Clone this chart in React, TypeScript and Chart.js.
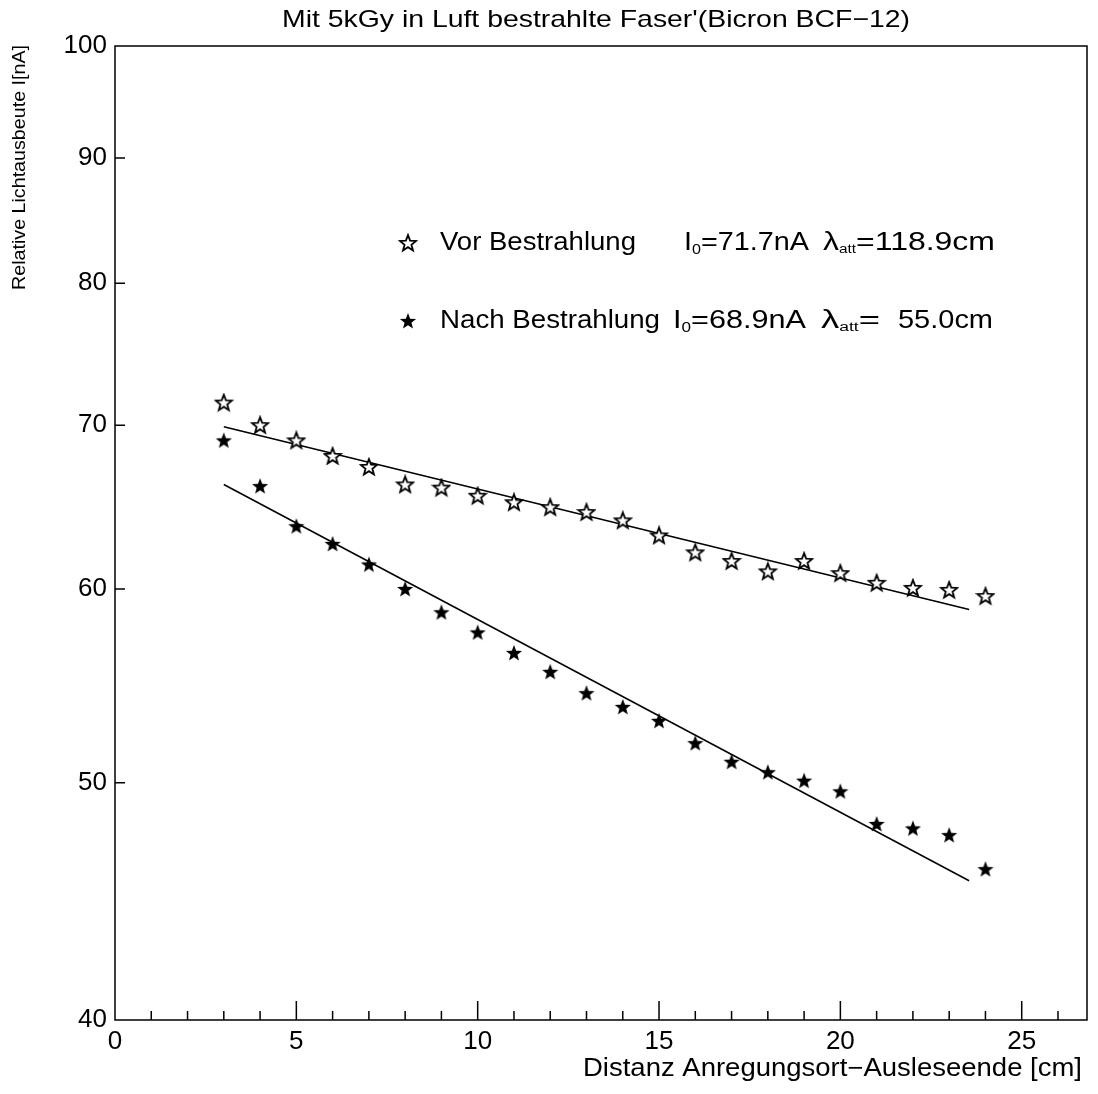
import React, { useEffect, useRef } from "react";
import { Chart, registerables } from "chart.js";

Chart.register(...registerables);

const distances = [3, 4, 5, 6, 7, 8, 9, 10, 11, 12, 13, 14, 15, 16, 17, 18, 19, 20, 21, 22, 23, 24];
const vorValues = [71.5, 70.0, 69.0, 68.0, 67.3, 66.2, 66.0, 65.5, 65.1, 64.8, 64.5, 64.0, 63.1, 62.1, 61.6, 61.0, 61.6, 60.9, 60.35, 60.06, 59.95, 59.6];
const nachValues = [69.0, 66.1, 63.65, 62.6, 61.4, 60.0, 58.7, 57.6, 56.5, 55.5, 54.4, 53.7, 53.0, 51.9, 51.0, 50.5, 50.1, 49.6, 48.1, 47.9, 47.6, 46.1];
const fitX = [3, 23.55];
const fitVor = [69.9, 58.85];
const fitNach = [66.2, 45.6];
const xTicks = [0, 5, 10, 15, 20, 25];
const yTicks = [40, 50, 60, 70, 80, 90, 100];

const TITLE = "Mit 5kGy in Luft bestrahlte Faser'(Bicron BCF\u221212)";
const X_TITLE = "Distanz Anregungsort\u2212Ausleseende [cm]";
const Y_TITLE = "Relative Lichtausbeute I[nA]";
const FONT = "'Liberation Sans', Arial, sans-serif";

type Part = { text: string; size: number; dy?: number };

function makeStar(filled: boolean): HTMLCanvasElement {
  const c = document.createElement("canvas");
  const s = 20;
  c.width = s;
  c.height = s;
  const ctx = c.getContext("2d")!;
  const cx = s / 2, cy = s / 2 + 0.6, ro = 8.5, ri = 3.6;
  ctx.beginPath();
  for (let i = 0; i < 10; i++) {
    const r = i % 2 === 0 ? ro : ri;
    const a = -Math.PI / 2 + (i * Math.PI) / 5;
    const px = cx + r * Math.cos(a), py = cy + r * Math.sin(a);
    if (i === 0) ctx.moveTo(px, py); else ctx.lineTo(px, py);
  }
  ctx.closePath();
  if (filled) {
    ctx.fillStyle = "#000";
    ctx.fill();
  } else {
    ctx.fillStyle = "#fff";
    ctx.fill();
    ctx.strokeStyle = "#000";
    ctx.lineWidth = 1.8;
    ctx.stroke();
  }
  return c;
}

// draws a run of text pieces (with sub-scripts) stretched between x0 and x1
function drawGroup(ctx: CanvasRenderingContext2D, parts: Part[], x0: number, x1: number, y: number) {
  let total = 0;
  for (const p of parts) {
    ctx.font = `${p.size}px ${FONT}`;
    total += ctx.measureText(p.text).width;
  }
  const k = (x1 - x0) / total;
  ctx.save();
  ctx.translate(x0, y);
  ctx.scale(k, 1);
  ctx.textAlign = "left";
  let x = 0;
  for (const p of parts) {
    ctx.font = `${p.size}px ${FONT}`;
    ctx.fillText(p.text, x, p.dy || 0);
    x += ctx.measureText(p.text).width;
  }
  ctx.restore();
}

export default function App() {
  const ref = useRef<HTMLCanvasElement | null>(null);
  useEffect(() => {
    if (!ref.current) return;
    const openStar = makeStar(false);
    const fullStar = makeStar(true);

    const decor = {
      id: "decor",
      afterDraw(chart: any) {
        const ctx: CanvasRenderingContext2D = chart.ctx;
        const { left, right, top, bottom } = chart.chartArea;
        const xs = chart.scales.x;
        const ys = chart.scales.y;
        ctx.save();
        ctx.strokeStyle = "#000";
        ctx.lineWidth = 1.5;
        ctx.strokeRect(left, top, right - left, bottom - top);
        ctx.beginPath();
        for (let i = 1; i <= 26; i++) {
          const px = xs.getPixelForValue(i);
          const len = i % 5 === 0 ? 19 : 9;
          ctx.moveTo(px, bottom);
          ctx.lineTo(px, bottom - len);
        }
        for (const v of yTicks) {
          if (v === 40 || v === 100) continue;
          const py = ys.getPixelForValue(v);
          ctx.moveTo(left, py);
          ctx.lineTo(left + 10, py);
        }
        ctx.stroke();

        ctx.fillStyle = "#000";
        ctx.textBaseline = "middle";
        // title
        drawGroup(ctx, [{ text: TITLE, size: 24 }], 282, 910, 20);
        // x title
        drawGroup(ctx, [{ text: X_TITLE, size: 25 }], 583, 1082, 1069);
        // y title
        ctx.save();
        ctx.translate(20, 290);
        ctx.rotate(-Math.PI / 2);
        drawGroup(ctx, [{ text: Y_TITLE, size: 18.5 }], 0, 245, 0);
        ctx.restore();

        // legend
        ctx.drawImage(openStar, 408 - 10, 243 - 10);
        ctx.drawImage(fullStar, 408 - 10, 321 - 10);
        drawGroup(ctx, [{ text: "Vor Bestrahlung", size: 25 }], 440, 636, 243);
        drawGroup(ctx, [{ text: "I", size: 25 }, { text: "0", size: 14, dy: 7 }, { text: "=71.7nA", size: 25 }], 684, 809, 243);
        drawGroup(ctx, [{ text: "\u03bb", size: 25 }, { text: "att", size: 12, dy: 7 }, { text: "=118.9cm", size: 25 }], 823, 995, 243);
        drawGroup(ctx, [{ text: "Nach Bestrahlung", size: 25 }], 440, 660, 321);
        drawGroup(ctx, [{ text: "I", size: 25 }, { text: "0", size: 14, dy: 7 }, { text: "=68.9nA", size: 25 }], 673, 806, 321);
        drawGroup(ctx, [{ text: "\u03bb", size: 25 }, { text: "att", size: 12, dy: 7 }, { text: "=", size: 25 }], 821, 880, 321);
        drawGroup(ctx, [{ text: "55.0cm", size: 25 }], 898, 993, 321);
        ctx.restore();
      },
    };

    const chart = new Chart(ref.current, {
      type: "scatter",
      data: {
        datasets: [
          {
            label: "Vor Bestrahlung",
            data: distances.map((d, i) => ({ x: d, y: vorValues[i] })),
            pointStyle: openStar as any,
            pointRadius: 9,
            showLine: false,
          },
          {
            label: "Nach Bestrahlung",
            data: distances.map((d, i) => ({ x: d, y: nachValues[i] })),
            pointStyle: fullStar as any,
            pointRadius: 9,
            showLine: false,
          },
          {
            label: "Fit vor",
            type: "line",
            data: fitX.map((d, i) => ({ x: d, y: fitVor[i] })),
            borderColor: "#000",
            borderWidth: 1.5,
            pointRadius: 0,
            showLine: true,
          },
          {
            label: "Fit nach",
            type: "line",
            data: fitX.map((d, i) => ({ x: d, y: fitNach[i] })),
            borderColor: "#000",
            borderWidth: 1.5,
            pointRadius: 0,
            showLine: true,
          },
        ] as any,
      },
      options: {
        animation: false,
        responsive: false,
        layout: { padding: { left: 0, top: 46, right: 11, bottom: 0 } },
        plugins: { legend: { display: false }, tooltip: { enabled: false }, title: { display: false } },
        scales: {
          x: {
            type: "linear",
            min: 0,
            max: 26.8,
            grid: { display: false },
            border: { display: false },
            afterBuildTicks: (s: any) => { s.ticks = xTicks.map((v) => ({ value: v })); },
            afterFit: (s: any) => { s.height = 74; },
            ticks: { color: "#000", font: { family: FONT, size: 26 }, padding: -2, maxRotation: 0, autoSkip: false },
          },
          y: {
            type: "logarithmic",
            min: 40,
            max: 100,
            grid: { display: false },
            border: { display: false },
            afterBuildTicks: (s: any) => { s.ticks = yTicks.map((v) => ({ value: v })); },
            afterFit: (s: any) => { s.width = 115; },
            ticks: {
              color: "#000",
              font: { family: FONT, size: 26 },
              padding: 0,
              autoSkip: false,
              callback: (v: any) => String(v),
            },
          },
        },
      } as any,
      plugins: [decor],
    });
    return () => chart.destroy();
  }, []);
  return (
    <div style={{ position: "absolute", left: 0, top: 0, width: 1098, height: 1094, background: "#fff" }}>
      <canvas ref={ref} width={1098} height={1094} style={{ width: 1098, height: 1094, display: "block" }} />
    </div>
  );
}
